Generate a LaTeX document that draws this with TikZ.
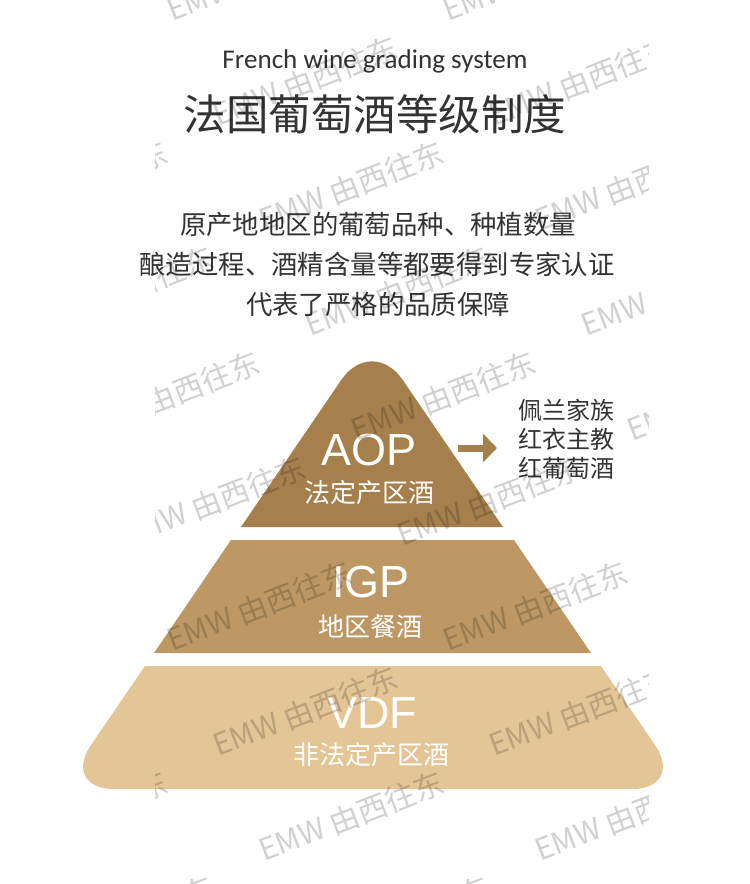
\documentclass[tikz,border=0pt]{standalone}
\usepackage{fontspec}
\setmainfont{Liberation Sans}
\newfontfamily\cjk{Noto Sans CJK SC}
\newfontfamily\engfont{Carlito}
\newfontfamily\latfont{Liberation Sans}
\usetikzlibrary{arrows.meta}
\definecolor{aopc}{HTML}{A6804C}
\definecolor{igpc}{HTML}{BD9864}
\definecolor{vdfc}{HTML}{E3C596}
\definecolor{ink}{HTML}{333333}
\tikzset{
  cjktext/.style={inner sep=0pt, text=ink, font=\cjk\fontsize{#1}{#1}\selectfont},
  grade/.style={inner sep=0pt, text=white, font=\latfont\fontsize{45}{45}\selectfont, anchor=base},
  gradecn/.style={inner sep=0pt, text=white, font=\cjk\fontsize{26}{26}\selectfont},
  wmark/.style={inner sep=0pt, anchor=base west, rotate=21, text=black, text opacity=0.18, font=\cjk\fontsize{30}{30}\selectfont},
}
\begin{document}
\begin{tikzpicture}[x=1pt,y=-1pt]
\useasboundingbox (0,0) rectangle (750,884);
\fill[white] (0,0) rectangle (750,884);

% titles
\node[inner sep=0pt, anchor=base, text=ink] (entitle) at (375,68) {\resizebox{305pt}{!}{\engfont\fontsize{27}{27}\selectfont French wine grading system}};
\node[cjktext=42.5] (cntitle) at (375,114) {法国葡萄酒等级制度};

% paragraph
\node[cjktext=26.4] (line1) at (378,224) {原产地地区的葡萄品种、种植数量};
\node[cjktext=26.4] (line2) at (377,264) {酿造过程、酒精含量等都要得到专家认证};
\node[cjktext=26.4] (line3) at (378,304) {代表了严格的品质保障};

% pyramid
\fill[aopc] (241,527) -- (341.3,379.9) .. controls (358.2,355.2) and (385.8,355.2) .. (402.7,379.9) -- (503,527) -- cycle;
\fill[igpc] (231,540) -- (514,540) -- (591,653) -- (154,653) -- cycle;
\fill[vdfc] (145,666) -- (601,666) -- (655.1,745.2) .. controls (671.5,769.3) and (661.2,789) .. (632,789) -- (114,789) .. controls (84.8,789) and (74.5,769.3) .. (90.9,745.2) -- cycle;

\node[grade] (aop) at (369,465) {AOP};
\node[gradecn] (aopcn) at (369,493) {法定产区酒};
\node[grade] (igp) at (371,597) {IGP};
\node[gradecn] (igpcn) at (370,627) {地区餐酒};
\node[grade] (vdf) at (372,728) {VDF};
\node[gradecn] (vdfcn) at (371,755) {非法定产区酒};

% arrow and wines
\node[inner sep=0pt, anchor=west, align=left, text=ink, font=\cjk\fontsize{24}{29}\selectfont] (wines) at (518,439) {佩兰家族\\红衣主教\\红葡萄酒};
\coordinate (arrS) at (458,448);
\coordinate (arrE) at (497,448);
\draw[aopc, line width=7pt, -{Triangle[length=14pt,width=28pt]}] (arrS) -- (arrE);

% watermark
\begin{scope}
\clip (155,0) rectangle (648,884);
\foreach \j in {-6,...,3}{
  \foreach \k in {-1,0,1,2}{
    \pgfmathsetmacro{\wx}{172+276*\k+46*\j}
    \pgfmathsetmacro{\wy}{652+105*\j}
    \pgfmathtruncatemacro{\idx}{(\j+6)*4+\k+2}
    \node[wmark] (wm\idx) at (\wx,\wy) {EMW 由西往东};
  }
}
\end{scope}
\end{tikzpicture}
\end{document}
